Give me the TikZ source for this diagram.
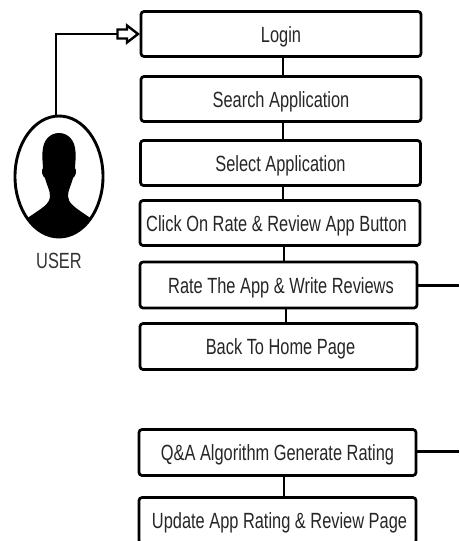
\documentclass[tikz,border=0pt]{standalone}
\usepackage{fontspec}
\usetikzlibrary{shapes.geometric}
\setmainfont{Liberation Sans}
\newcommand{\narrowtxt}[2][0pt]{\hspace*{#1}\raisebox{-8pt}[0pt][0pt]{\scalebox{.745}[1]{#2}}}
\tikzset{
  stepbox/.style={draw=black,line width=2.7pt,rounded corners=3pt,inner sep=0pt,
    font=\fontsize{22}{24}\selectfont,text=black!85,fill=white},
  link/.style={draw=black,line width=2.8pt}
}
\begin{document}
\begin{tikzpicture}[x=1pt,y=-1pt]
\useasboundingbox (0,0) rectangle (459,541);
% boxes
\node[stepbox,minimum width=280pt,minimum height=45pt] (login) at (281,34) {\narrowtxt{Login}};
\node[stepbox,minimum width=280pt,minimum height=45pt] (search) at (281,99) {\narrowtxt{Search Application}};
\node[stepbox,minimum width=280pt,minimum height=45pt] (select) at (280.5,163) {\narrowtxt{Select Application}};
\node[stepbox,minimum width=280pt,minimum height=45pt] (click) at (280,223) {\narrowtxt[-7pt]{Click On Rate \& Review App Button}};
\node[stepbox,minimum width=277pt,minimum height=46pt] (rate) at (278.5,285) {\narrowtxt[5pt]{Rate The App \& Write Reviews}};
\node[stepbox,minimum width=277pt,minimum height=46pt] (back) at (278.5,346.5) {\narrowtxt[4pt]{Back To Home Page}};
\node[stepbox,minimum width=277pt,minimum height=46pt] (qa) at (277.5,452.5) {\narrowtxt{Q\&A Algorithm Generate Rating}};
\node[stepbox,minimum width=277pt,minimum height=46pt] (update) at (277.5,520.5) {\narrowtxt[4pt]{Update App Rating \& Review Page}};
% vertical connectors
\coordinate (va) at (283,0);
\coordinate (vb) at (284,0);
\coordinate (vc) at (286,0);
\coordinate (vu) at (56,0);
\draw[link] (login.south -| va) -- (search.north -| va);
\draw[link] (search.south -| va) -- (select.north -| va);
\draw[link] (select.south -| va) -- (click.north -| va);
\draw[link] (click.south -| vb) -- (rate.north -| vb);
\draw[link] (rate.south -| vc) -- (back.north -| vc);
\draw[link] (qa.south -| vb) -- (update.north -| vb);
% right stubs
\coordinate (rateend) at (459,285.5);
\coordinate (qaend) at (459,451.5);
\draw[link] (rate.east |- rateend) -- (rateend);
\draw[link] (qa.east |- qaend) -- (qaend);
% user
\node[draw=black,line width=2.9pt,ellipse,minimum width=88pt,minimum height=121pt,inner sep=0pt] (user) at (59,176.5) {};
\begin{scope}
\clip (59,176.5) ellipse [x radius=43pt,y radius=59.5pt];
\fill[black] (59,133)
  .. controls (68,133) and (75,140) .. (75.5,152)
  .. controls (76,160) and (75,165) .. (75,168)
  .. controls (77,170) and (76,176) .. (73,178)
  .. controls (71,186) and (68,190) .. (68,196)
  .. controls (68,203) and (74,207) .. (89,217)
  .. controls (95,222) and (100,230) .. (104,240)
  -- (14,240)
  .. controls (18,230) and (23,222) .. (29,217)
  .. controls (42,208) and (50,204) .. (50,196)
  .. controls (50,190) and (47,186) .. (45,178)
  .. controls (42,176) and (41,170) .. (43,168)
  .. controls (43,165) and (42,160) .. (42.5,152)
  .. controls (43,140) and (50,133) .. (59,133) -- cycle;
\end{scope}
\node[font=\fontsize{22}{24}\selectfont,text=black!80,inner sep=0pt] (userlabel) at (59,260) {\narrowtxt{USER}};
% arrow from user to login
\coordinate (elbow) at (56,34);
\coordinate (tail) at (117,34);
\draw[link] (user.north -| vu) -- (elbow) -- (tail);
\draw[black,line width=2.4pt,fill=white,line join=miter]
  (117.5,29.5) -- (127,29.5) -- (127,25.5) -- (138,34) -- (127,42.5) -- (127,38.5) -- (117.5,38.5) -- cycle;
\end{tikzpicture}
\end{document}
